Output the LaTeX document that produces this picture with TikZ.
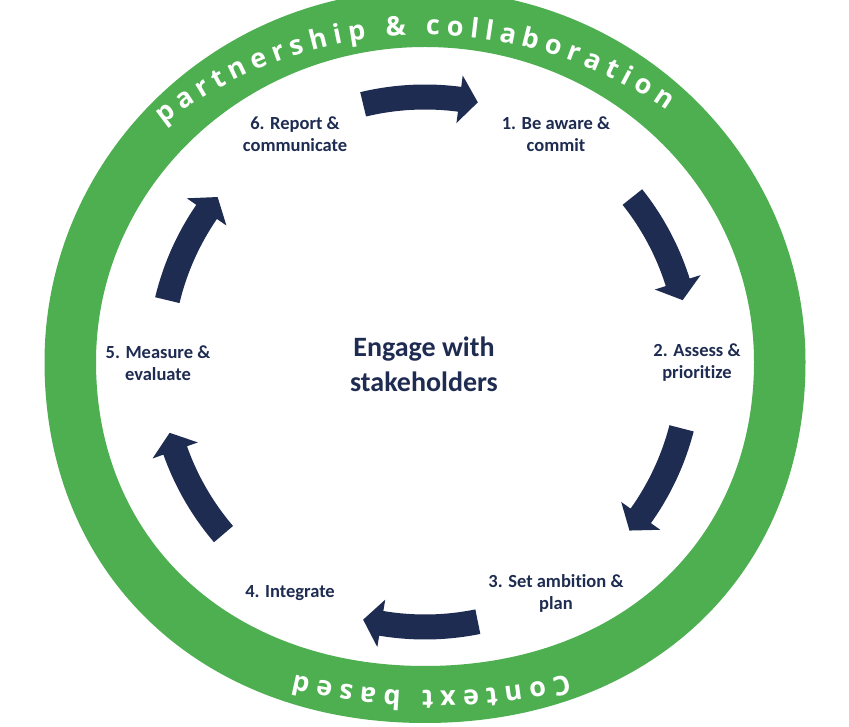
\documentclass[tikz,border=0pt]{standalone}
\usepackage{fontspec}
\setmainfont{Carlito}[Ligatures=NoCommon]
\newfontfamily\ringfont{Open Sans}
\definecolor{ringgreen}{HTML}{4DAF50}
\definecolor{navy}{HTML}{1F2C52}
\newcommand\ringfnt{\ringfont\bfseries\fontsize{27}{27}\selectfont}
\def\ringsize{27}
% #1 cx, #2 cy, #3 radius, #4 centre angle, #5 tracking, #6 name prefix, #7 list char/width(1/1000 em)
\newcommand\ringword[7]{%
  \gdef\rtot{0}%
  \foreach \ch/\w in {#7}{%
    \pgfmathsetmacro\rtmp{\rtot+\w/1000*\ringsize+#5}%
    \global\let\rtot\rtmp
  }%
  \pgfmathsetmacro\rstart{#4+((\rtot-#5)/2)/#3*180/pi}%
  \gdef\rpos{0}%
  \foreach \ch/\w [count=\i] in {#7}{%
    \pgfmathsetmacro\cw{\w/1000*\ringsize}%
    \pgfmathsetmacro\ang{\rstart-(\rpos+\cw/2)/#3*180/pi}%
    \path (#1,#2) ++(\ang:#3) node[ringchar,rotate=\ang-90] (#6\i) {\ch};
    \pgfmathsetmacro\rtmp{\rpos+\cw+#5}%
    \global\let\rpos\rtmp
  }%
}
\begin{document}
\begin{tikzpicture}[x=1pt,y=1pt,
  lbl/.style={text=navy,font=\bfseries\fontsize{18.5}{22}\selectfont,align=center,inner sep=0pt},
  hub/.style={text=navy,font=\bfseries\fontsize{28}{35}\selectfont,align=center,inner sep=0pt},
  ringchar/.style={text=white,font=\ringfnt,inner sep=0pt,anchor=base},
  cyclearrow/.style={fill=navy,draw=none}]
\useasboundingbox (0,0) rectangle (849,726);
\fill[white] (0,0) rectangle (849,726);
\clip (0,0) rectangle (849,726);
% ring
\fill[ringgreen,even odd rule]
  (805.5,364) .. controls (805.5,569.5) and (635.2,736) .. (425,736)
              .. controls (214.8,736) and (44.5,569.5) .. (44.5,364)
              .. controls (44.5,151) and (200.5,3) .. (425,3)
              .. controls (649.5,3) and (805.5,151) .. (805.5,364) -- cycle
  (754,364) .. controls (754,538) and (606.7,679) .. (425,679)
            .. controls (243.3,679) and (96,538) .. (96,364)
            .. controls (96,184.6) and (230.9,60) .. (425,60)
            .. controls (619.1,60) and (754,184.6) .. (754,364) -- cycle;
% ring texts
\ringword{425}{266}{425}{91.6}{6.5}{top}{p/633,a/599,r/433,t/407,n/652,e/590,r/433,s/496,h/652,i/305,p/633,{\ }/260,\&/727,{\ }/260,c/516,o/619,l/305,l/305,a/599,b/633,o/619,r/433,a/599,t/407,i/305,o/619,n/652}
\ringword{431}{625}{590}{-90}{7.1}{bot}{C/620,o/619,n/652,t/407,e/590,x/565,t/407,{\ }/260,b/633,a/599,s/496,e/590,d/633}
% arrows
\begin{scope}[shift={(425,364)}]
\foreach \a in {91,26,-27,-91,-152,154}{
  \fill[cyclearrow] (\a+12.5:252.5) arc[start angle=\a+12.5,end angle=\a-8.5,radius=252.5]
    -- (\a-8.5:241) -- (\a-12.5:265) -- (\a-8.5:289) -- (\a-8.5:277.5)
    arc[start angle=\a-8.5,end angle=\a+12.5,radius=277.5] -- cycle;
}
\end{scope}
% labels
\node[lbl] (l6) at (295,592) {6. Report \&\\communicate};
\node[lbl] (l1) at (556,592) {1. Be aware \&\\commit};
\node[lbl] (l2) at (697,363) {2. Assess \&\\prioritize};
\node[lbl] (l5) at (158,363) {5. Measure \&\\evaluate};
\node[lbl] (l3) at (556,133) {3. Set ambition \&\\plan};
\node[lbl] (l4) at (290,133) {4. Integrate};
\node[hub] (hub) at (424,362) {Engage with\\stakeholders};
\end{tikzpicture}
\end{document}
